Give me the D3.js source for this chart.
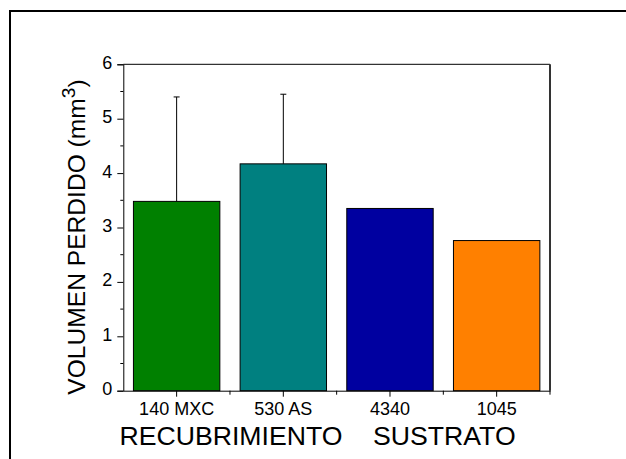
<!DOCTYPE html>
<html>
<head>
<meta charset="utf-8">
<script src="https://cdn.jsdelivr.net/npm/d3@7"></script>
<style>
  body { margin: 0; background: #fff; }
  text { font-family: "Liberation Sans", Arial, sans-serif; fill: #000; }
</style>
</head>
<body>
<div id="chart"></div>
<script>
// data
var categories = ["140 MXC", "530 AS", "4340", "1045"]
var volumes = [3.48, 4.17, 3.35, 2.76]
var errors = [1.92, 1.28, 0, 0]
var barColors = ["#008000", "#008080", "#0000A0", "#FF8000"]
var yTicks = [0, 1, 2, 3, 4, 5, 6]
var groups = [
    { label: "RECUBRIMIENTO", members: ["140 MXC", "530 AS"] },
    { label: "SUSTRATO", members: ["4340", "1045"] }
]

var outerWidth = 626, outerHeight = 459
var plot = { left: 123.3, top: 64.3, right: 550, bottom: 390.7 }

var svg = d3.select("#chart").append("svg")
    .attr("width", outerWidth)
    .attr("height", outerHeight)

svg.append("rect")
    .attr("width", outerWidth).attr("height", outerHeight)
    .attr("fill", "#fff")

// frame around the page (runs off right and bottom edge)
svg.append("rect")
    .attr("x", 10).attr("y", 11)
    .attr("width", 700).attr("height", 500)
    .attr("fill", "none")
    .attr("stroke", "#000")
    .attr("stroke-width", 2)

var xScale = d3.scaleBand()
    .domain(categories)
    .range([plot.left, plot.right])
    .paddingInner(0.19)
    .paddingOuter(0.095)

var yScale = d3.scaleLinear()
    .domain([0, 6])
    .range([plot.bottom, plot.top])

// bars
svg.selectAll(".bar")
    .data(categories)
    .enter()
    .append("rect")
    .attr("class", "bar")
    .attr("x", function(d) { return xScale(d) })
    .attr("y", function(d, i) { return yScale(volumes[i]) })
    .attr("width", xScale.bandwidth())
    .attr("height", function(d, i) { return yScale(0) - yScale(volumes[i]) })
    .attr("fill", function(d, i) { return barColors[i] })
    .attr("stroke", "#000")
    .attr("stroke-width", 1)

// error bars (upper only)
categories.forEach(function(c, i) {
    if (!errors[i]) return
    var cx = xScale(c) + xScale.bandwidth() / 2
    var yTop = yScale(volumes[i] + errors[i])
    svg.append("line")
        .attr("x1", cx).attr("x2", cx)
        .attr("y1", yScale(volumes[i])).attr("y2", yTop)
        .attr("stroke", "#000").attr("stroke-width", 1)
    svg.append("line")
        .attr("x1", cx - 3).attr("x2", cx + 3)
        .attr("y1", yTop).attr("y2", yTop)
        .attr("stroke", "#000").attr("stroke-width", 1)
})

// top and right frame of the plot
svg.append("line")
    .attr("x1", plot.left).attr("x2", plot.right)
    .attr("y1", plot.top).attr("y2", plot.top)
    .attr("stroke", "#000").attr("stroke-width", 1)
svg.append("line")
    .attr("x1", plot.right).attr("x2", plot.right)
    .attr("y1", plot.top).attr("y2", plot.bottom)
    .attr("stroke", "#333").attr("stroke-width", 2)

// y axis
var yAxis = svg.append("g")
    .attr("transform", "translate(" + plot.left + ",0)")
    .call(d3.axisLeft(yScale).tickValues(yTicks).tickSize(6).tickPadding(5).tickFormat(d3.format("d")))
yAxis.select(".domain").attr("stroke", "#000")
yAxis.selectAll("text")
    .attr("font-size", "18px")
    .attr("font-family", "'Liberation Sans', Arial, sans-serif")
    .attr("dy", "0.22em")

var yMinor = d3.range(0.5, 6, 1)
svg.selectAll(".yminor")
    .data(yMinor)
    .enter()
    .append("line")
    .attr("x1", plot.left - 3).attr("x2", plot.left)
    .attr("y1", function(d) { return yScale(d) })
    .attr("y2", function(d) { return yScale(d) })
    .attr("stroke", "#000")

// x axis
var xAxis = svg.append("g")
    .attr("transform", "translate(0," + plot.bottom + ")")
    .call(d3.axisBottom(xScale).tickSize(6).tickPadding(6).tickSizeOuter(0))
xAxis.select(".domain").attr("stroke", "#000")
xAxis.selectAll("text")
    .attr("font-size", "18px")
    .attr("font-family", "'Liberation Sans', Arial, sans-serif")

var step = xScale.step()
var xMinor = d3.range(1, categories.length + 1).map(function(k) { return plot.left + k * step })
svg.selectAll(".xminor")
    .data(xMinor)
    .enter()
    .append("line")
    .attr("x1", function(d) { return d }).attr("x2", function(d) { return d })
    .attr("y1", plot.bottom).attr("y2", plot.bottom + 4)
    .attr("stroke", "#000")

// group titles under the categories
groups.forEach(function(g) {
    var first = xScale(g.members[0])
    var last = xScale(g.members[g.members.length - 1]) + xScale.bandwidth()
    svg.append("text")
        .attr("x", (first + last) / 2 + 1)
        .attr("y", 445)
        .attr("text-anchor", "middle")
        .attr("font-size", "26px")
        .attr("transform", "translate(" + ((first + last) / 2) + ",0) scale(1.025,1) translate(" + (-(first + last) / 2) + ",0)")
        .text(g.label)
})

// y axis title
var yTitle = svg.append("text")
    .attr("transform", "translate(85,237) rotate(-90) scale(1.07,1)")
    .attr("text-anchor", "middle")
    .attr("font-size", "23px")
yTitle.append("tspan").text("VOLUMEN PERDIDO (mm")
yTitle.append("tspan").attr("dy", -10).attr("font-size", "18px").text("3")
yTitle.append("tspan").attr("dy", 10).text(")")
</script>
</body>
</html>
